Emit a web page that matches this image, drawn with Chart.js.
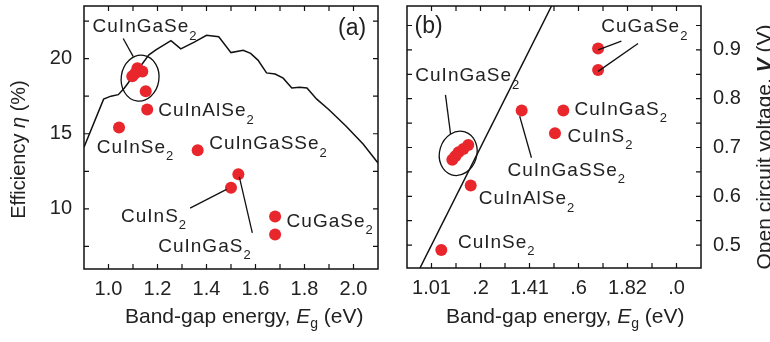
<!DOCTYPE html>
<html>
<head>
<meta charset="utf-8">
<script src="https://cdn.jsdelivr.net/npm/chart.js@4/dist/chart.umd.min.js"></script>
<style>
  body { margin: 0; background: #fff; }
  canvas { position: absolute; top: 0; }
  #graficoA { left: 0; }
  #graficoB { left: 385px; }
</style>
</head>
<body>
<canvas id="graficoA" width="385" height="342"></canvas>
<canvas id="graficoB" width="385" height="342"></canvas>
<script>
// --- Panel (a): eficiencia frente a energía de banda prohibida ---
const compuestosA = ['CuInGaSe2', 'CuInGaSe2', 'CuInGaSe2', 'CuInGaSe2', 'CuInGaSe2', 'CuInAlSe2', 'CuInSe2', 'CuInGaSSe2', 'CuInS2', 'CuInGaS2', 'CuGaSe2', 'CuGaSe2'];
const egA = [1.118, 1.097, 1.138, 1.108, 1.152, 1.158, 1.043, 1.364, 1.50, 1.53, 1.68, 1.68];
const eficiencia = [19.36, 18.82, 19.14, 19.0, 17.83, 16.62, 15.41, 13.9, 11.4, 12.3, 9.5, 8.3];

// curva teórica de eficiencia
const curvaEg = [0.90, 0.98, 1.01, 1.04, 1.065, 1.165, 1.195, 1.255, 1.295, 1.35, 1.40, 1.45, 1.50, 1.55, 1.58, 1.61, 1.645, 1.68, 1.713, 1.748, 1.78, 1.81, 1.85, 1.90, 1.97, 2.04, 2.10];
const curvaEf = [14.1, 17.3, 17.5, 17.6, 18.05, 20.25, 20.6, 21.2, 20.65, 21.1, 21.55, 21.45, 20.4, 20.55, 20.35, 19.9, 19.05, 18.97, 18.7, 18.05, 18.1, 18.05, 17.3, 16.6, 15.5, 14.3, 13.05];

// --- Panel (b): tensión de circuito abierto ---
const compuestosB = ['CuInSe2', 'CuInAlSe2', 'CuInGaSe2', 'CuInGaSe2', 'CuInGaSe2', 'CuInGaSe2', 'CuInGaSe2', 'CuInGaSSe2', 'CuInGaS2', 'CuInS2', 'CuGaSe2', 'CuGaSe2'];
const egB = [1.04, 1.16, 1.085, 1.097, 1.11, 1.13, 1.15, 1.368, 1.538, 1.504, 1.68, 1.68];
const voc = [0.49, 0.622, 0.675, 0.682, 0.69, 0.697, 0.705, 0.776, 0.776, 0.729, 0.903, 0.859];

// recta Voc = Eg - 0.5
const rectaEg = [0.953, 1.49];
const rectaVoc = [0.453, 0.99];

// ejes
const ticksX = [1.0, 1.2, 1.4, 1.6, 1.8, 2.0];
const etiquetasXa = ['1.0', '1.2', '1.4', '1.6', '1.8', '2.0'];
const etiquetasXb = ['1.01', '.2', '1.41', '.6', '1.82', '.0'];
const ticksYa = [10, 15, 20];
const ticksYb = [0.5, 0.6, 0.7, 0.8, 0.9];

// anotaciones (texto, x, y en unidades de datos)
const rotulosA = ['CuInGaSe2', 'CuInAlSe2', 'CuInSe2', 'CuInGaSSe2', 'CuInS2', 'CuInGaS2', 'CuGaSe2'];
const rotulosAx = [0.935, 1.203, 0.952, 1.411, 1.051, 1.203, 1.727];
const rotulosAy = [22.1, 16.5, 14.1, 14.3, 9.5, 7.5, 9.16];
const rotulosB = ['CuGaSe2', 'CuInGaSe2', 'CuInGaS2', 'CuInS2', 'CuInGaSSe2', 'CuInAlSe2', 'CuInSe2'];
const rotulosBx = [1.693, 0.934, 1.584, 1.555, 1.31, 1.193, 1.108];
const rotulosBy = [0.947, 0.846, 0.778, 0.723, 0.652, 0.594, 0.505];

const FUENTE = '"Liberation Sans", Arial, sans-serif';
const TEXTO = '#222';
const ROJO = '#e8262b';

function pares(xs, ys) {
  return xs.map((v, i) => ({ x: v, y: ys[i] }));
}

function etiquetaDe(ticks, etiquetas) {
  return v => {
    const i = ticks.findIndex(t => Math.abs(t - v) < 1e-6);
    return i >= 0 ? etiquetas[i] : '';
  };
}

// posiciones de las marcas del eje: múltiplos del paso dentro del rango
function marcas(min, max, paso) {
  const res = [];
  for (let k = Math.ceil(min / paso - 1e-6); k * paso <= max + 1e-9; k++) {
    res.push({ value: Math.round(k * paso * 1000) / 1000 });
  }
  return res;
}

// dibuja texto con trozos de distinta fuente (cursiva, subíndice...)
function textoRico(ctx, partes, x, y, centrado) {
  let total = 0;
  partes.forEach(p => { ctx.font = p[1]; total += ctx.measureText(p[0]).width; });
  let cx = centrado ? x - total / 2 : x;
  partes.forEach(p => {
    ctx.font = p[1];
    ctx.fillText(p[0], cx, y + (p[2] || 0));
    cx += ctx.measureText(p[0]).width;
  });
}

function rotulo(ctx, nombre, x, y) {
  ctx.letterSpacing = '1px';
  const base = nombre.slice(0, -1);
  textoRico(ctx, [[base, '19px ' + FUENTE], [nombre.slice(-1), '13px ' + FUENTE, 9]], x, y, false);
  ctx.letterSpacing = '0px';
}

function pluginPanel(p) {
  return {
    id: 'panel',
    afterDatasetsDraw(chart) {
      const { ctx, scales: { x, y } } = chart;
      ctx.save();
      ctx.strokeStyle = '#111';
      ctx.lineWidth = 1.3;
      // elipse alrededor de CuInGaSe2
      const e = p.elipse;
      const ex = x.getPixelForValue(e[0]), ey = y.getPixelForValue(e[1]);
      const rx = Math.abs(x.getPixelForValue(e[0] + e[2]) - ex);
      const ry = Math.abs(y.getPixelForValue(e[1] + e[3]) - ey);
      ctx.beginPath();
      ctx.ellipse(ex, ey, rx, ry, e[4], 0, Math.PI * 2);
      ctx.stroke();
      // líneas guía
      p.guias.forEach(g => {
        ctx.beginPath();
        ctx.moveTo(x.getPixelForValue(g[0]), y.getPixelForValue(g[1]));
        ctx.lineTo(x.getPixelForValue(g[2]), y.getPixelForValue(g[3]));
        ctx.stroke();
      });
      // rótulos
      ctx.fillStyle = TEXTO;
      ctx.textBaseline = 'middle';
      ctx.textAlign = 'left';
      p.rotulos.forEach((r, i) => rotulo(ctx, r, x.getPixelForValue(p.rx[i]), y.getPixelForValue(p.ry[i])));
      ctx.font = '23px ' + FUENTE;
      ctx.fillText(p.letra[0], x.getPixelForValue(p.letra[1]), y.getPixelForValue(p.letra[2]));
      ctx.restore();
    },
    afterDraw(chart) {
      const { ctx, chartArea: ca, scales: { x, y } } = chart;
      ctx.save();
      ctx.strokeStyle = '#111';
      ctx.lineWidth = 1.5;
      ctx.strokeRect(ca.left, ca.top, ca.right - ca.left, ca.bottom - ca.top);
      // marcas hacia dentro en los cuatro lados
      ctx.lineWidth = 1.2;
      ctx.beginPath();
      x.ticks.forEach(t => {
        if (t.value <= x.min + 1e-6 || t.value >= x.max - 1e-6) return;
        const px = x.getPixelForValue(t.value);
        ctx.moveTo(px, ca.bottom); ctx.lineTo(px, ca.bottom - 5);
        ctx.moveTo(px, ca.top); ctx.lineTo(px, ca.top + 5);
      });
      y.ticks.forEach(t => {
        if (t.value <= y.min + 1e-6 || t.value >= y.max - 1e-6) return;
        const py = y.getPixelForValue(t.value);
        ctx.moveTo(ca.left, py); ctx.lineTo(ca.left + 5, py);
        ctx.moveTo(ca.right, py); ctx.lineTo(ca.right - 5, py);
      });
      ctx.stroke();
      // títulos de ejes
      ctx.fillStyle = TEXTO;
      ctx.textBaseline = 'middle';
      ctx.textAlign = 'left';
      const f = '21px ' + FUENTE;
      textoRico(ctx, [['Band-gap energy, ', f], ['E', 'italic ' + f], ['g', '14px ' + FUENTE, 7], [' (eV)', f]],
        ca.left + p.tituloX[0], ca.bottom + p.tituloX[1], false);
      ctx.translate(p.tituloY[0], (ca.top + ca.bottom) / 2 + p.tituloY[1]);
      ctx.rotate(-Math.PI / 2);
      textoRico(ctx, p.tituloY[2], 0, 0, true);
      ctx.restore();
    }
  };
}

function opciones(cfg) {
  return {
    responsive: false,
    animation: false,
    devicePixelRatio: 1,
    layout: { padding: cfg.padding },
    plugins: { legend: { display: false }, tooltip: { enabled: false } },
    scales: {
      x: {
        type: 'linear', min: 0.9, max: 2.1, bounds: 'data',
        grid: { display: false, drawTicks: false },
        border: { display: false },
        ticks: {
          autoSkip: false, maxRotation: 0, padding: 8,
          color: TEXTO, font: { family: FUENTE, size: 20 },
          callback: cfg.etiquetaX
        },
        afterBuildTicks: s => { s.ticks = marcas(0.9, 2.1, 0.1); },
        afterFit: s => { s.height = cfg.altoX; s.paddingLeft = 0; s.paddingRight = 0; }
      },
      y: {
        type: 'linear', position: cfg.posY, min: cfg.minY, max: cfg.maxY, bounds: 'data',
        grid: { display: false, drawTicks: false },
        border: { display: false },
        ticks: {
          autoSkip: false, padding: 12,
          color: TEXTO, font: { family: FUENTE, size: 20 },
          callback: cfg.etiquetaY
        },
        afterBuildTicks: s => { s.ticks = marcas(cfg.minY, cfg.maxY, cfg.pasoY); },
        afterFit: s => { s.width = cfg.anchoY; s.paddingTop = 0; s.paddingBottom = 0; }
      }
    }
  };
}

const f21 = '21px ' + FUENTE;
const fy = '20px ' + FUENTE;

new Chart(document.getElementById('graficoA'), {
  type: 'scatter',
  data: {
    datasets: [
      { data: pares(egA, eficiencia), backgroundColor: ROJO, borderWidth: 0, pointRadius: 6, order: 1 },
      { data: pares(curvaEg, curvaEf), showLine: true, borderColor: '#111', borderWidth: 1.5, pointRadius: 0, tension: 0, order: 2 }
    ]
  },
  options: opciones({
    padding: { left: 0, top: 4, right: 7, bottom: 0 },
    altoX: 73, anchoY: 84, posY: 'left',
    minY: 6, maxY: 23.5, pasoY: 2.5,
    etiquetaX: etiquetaDe(ticksX, etiquetasXa),
    etiquetaY: etiquetaDe(ticksYa, ticksYa.map(String))
  }),
  plugins: [pluginPanel({
    elipse: [1.129, 18.7, 0.077, 1.53, 0.15],
    guias: [[1.060, 21.34, 1.101, 20.13], [1.333, 10.05, 1.482, 11.30], [1.534, 12.13, 1.587, 8.40]],
    rotulos: rotulosA, rx: rotulosAx, ry: rotulosAy,
    letra: ['(a)', 1.937, 21.97],
    tituloX: [41, 48],
    tituloY: [19.5, 12, [['Efficiency ', fy], ['η', 'italic ' + fy], [' (%)', fy]]]
  })]
});

new Chart(document.getElementById('graficoB'), {
  type: 'scatter',
  data: {
    datasets: [
      { data: pares(egB, voc), backgroundColor: ROJO, borderWidth: 0, pointRadius: 6, order: 1 },
      { data: pares(rectaEg, rectaVoc), showLine: true, borderColor: '#111', borderWidth: 1.5, pointRadius: 0, order: 2 }
    ]
  },
  options: opciones({
    padding: { left: 22, top: 4, right: 0, bottom: 0 },
    altoX: 74, anchoY: 69, posY: 'right',
    minY: 0.453, maxY: 0.99, pasoY: 0.05,
    etiquetaX: etiquetaDe(ticksX, etiquetasXb),
    etiquetaY: etiquetaDe(ticksYb, ticksYb.map(v => v.toFixed(1)))
  }),
  plugins: [pluginPanel({
    elipse: [1.109, 0.688, 0.076, 0.046, 0.3],
    guias: [[1.775, 0.918, 1.68, 0.900], [1.843, 0.913, 1.68, 0.856], [1.057, 0.808, 1.078, 0.727], [1.360, 0.764, 1.408, 0.679]],
    rotulos: rotulosB, rx: rotulosBx, ry: rotulosBy,
    letra: ['(b)', 0.931, 0.948],
    tituloX: [39, 49],
    tituloY: [380, 10, [['Open circuit voltage, ', f21], ['V', 'italic bold ' + f21], [' (V)', f21]]]
  })]
});
</script>
</body>
</html>
